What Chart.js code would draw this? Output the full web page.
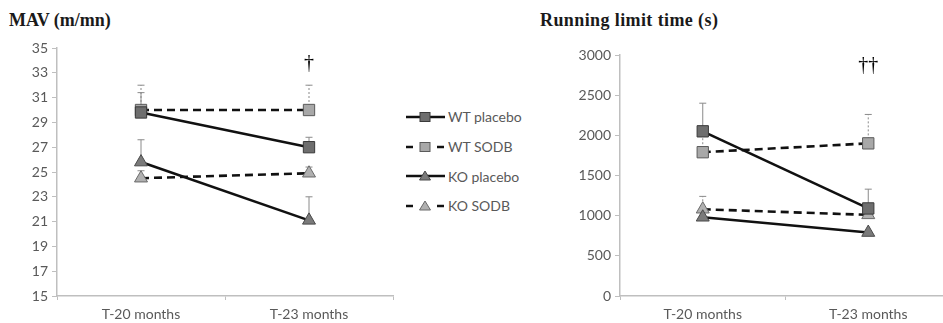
<!DOCTYPE html>
<html><head><meta charset="utf-8">
<script src="https://cdn.jsdelivr.net/npm/chart.js@4"></script>
<style>
html,body{margin:0;padding:0;background:#fff;width:943px;height:323px;overflow:hidden;position:relative;}
.ttl{position:absolute;font-family:"Liberation Serif","DejaVu Serif",serif;font-weight:bold;font-size:18px;color:#1a1a1a;white-space:nowrap;line-height:20px;}
.cv{position:absolute;top:0;}
#legend{position:absolute;left:405px;top:102px;font-family:Lato,"Open Sans",sans-serif;font-size:14px;color:#595959;}
#legend div{height:29.7px;display:flex;align-items:center;}
#legend svg{margin-right:3px;}
</style></head>
<body>
<div class="ttl" style="left:9px;top:10px;">MAV (m/mn)</div>
<div class="ttl" style="left:540px;top:10px;letter-spacing:0.4px;">Running limit time (s)</div>
<div class="cv" style="left:0;width:402px;height:323px;"><canvas id="c1"></canvas></div>
<div class="cv" style="left:560px;width:400px;height:323px;"><canvas id="c2"></canvas></div>
<div id="legend"></div>
<script>
// ---- data ----
const categories = ['T-20 months', 'T-23 months'];
const seriesNames = ['WT placebo', 'WT SODB', 'KO placebo', 'KO SODB'];

const mavWtPlacebo = [29.8, 27.0];
const mavWtSodb    = [30.0, 30.0];
const mavKoPlacebo = [25.8, 21.1];
const mavKoSodb    = [24.5, 24.9];
const mavWtPlaceboErr = [31.4, 27.8];
const mavWtSodbErr    = [32.0, 32.0];
const mavKoPlaceboErr = [27.6, 23.0];
const mavKoSodbErr    = [25.1, 25.4];
const mavTicks = [15, 17, 19, 21, 23, 25, 27, 29, 31, 33, 35];
const mavMark = {text: '†', category: 'T-23 months', value: 33.7};

const timeWtPlacebo = [2050, 1090];
const timeWtSodb    = [1790, 1900];
const timeKoPlacebo = [980, 790];
const timeKoSodb    = [1080, 1010];
const timeWtPlaceboErr = [2400, 1330];
const timeWtSodbErr    = [2060, 2260];
const timeKoPlaceboErr = [null, null];
const timeKoSodbErr    = [1240, 1090];
const timeTicks = [0, 500, 1000, 1500, 2000, 2500, 3000];
const timeMark = {text: '††', category: 'T-23 months', value: 2870};

// ---- styles ----
const styles = [
  {dash: [], point: 'rect', fill: '#6e6e6e', stroke: '#3a3a3a', radius: 8, errDash: []},
  {dash: [8, 5], point: 'rect', fill: '#a8a8a8', stroke: '#5a5a5a', radius: 8, errDash: [2, 2]},
  {dash: [], point: 'triangle', fill: '#7a7a7a', stroke: '#4a4a4a', radius: 7.5, errDash: []},
  {dash: [8, 5], point: 'triangle', fill: '#b0b0b0', stroke: '#6a6a6a', radius: 7.5, errDash: [2, 2]}
];
const tickFont = {family: 'Lato, "Open Sans", sans-serif', size: 14};
const tickColor = '#595959';
const axisColor = '#bfbfbf';

function makeDatasets(vals, errs) {
  return vals.map((v, i) => ({
    label: seriesNames[i],
    data: v,
    errUp: errs[i],
    borderColor: '#111',
    borderWidth: 2.6,
    borderDash: styles[i].dash,
    pointStyle: styles[i].point,
    pointRadius: styles[i].radius,
    pointBackgroundColor: styles[i].fill,
    pointBorderColor: styles[i].stroke,
    pointBorderWidth: 1,
    tension: 0,
    errDash: styles[i].errDash
  }));
}

const errorBars = {
  id: 'errorBars',
  beforeDatasetsDraw(chart) {
    const ctx = chart.ctx, y = chart.scales.y;
    chart.data.datasets.forEach((ds, di) => {
      const meta = chart.getDatasetMeta(di);
      ds.errUp.forEach((e, i) => {
        if (e == null) return;
        const px = meta.data[i].x, py0 = y.getPixelForValue(ds.data[i]), py1 = y.getPixelForValue(e);
        ctx.save();
        ctx.strokeStyle = '#8a8a8a';
        ctx.lineWidth = 1;
        ctx.setLineDash(ds.errDash);
        ctx.beginPath(); ctx.moveTo(px, py0); ctx.lineTo(px, py1); ctx.stroke();
        ctx.setLineDash([]);
        ctx.beginPath(); ctx.moveTo(px - 3.5, py1); ctx.lineTo(px + 3.5, py1); ctx.stroke();
        ctx.restore();
      });
    });
  }
};
const markPlugin = {
  id: 'markPlugin',
  afterDraw(chart, args, opts) {
    const m = opts.mark; if (!m) return;
    const ctx = chart.ctx;
    const px = chart.scales.x.getPixelForValue(categories.indexOf(m.category));
    const py = chart.scales.y.getPixelForValue(m.value);
    ctx.save();
    ctx.font = '20px "Liberation Serif", serif';
    ctx.fillStyle = '#000';
    ctx.textAlign = 'center'; ctx.textBaseline = 'middle';
    ctx.fillText(m.text, px, py);
    ctx.restore();
  }
};

function makeChart(id, datasets, ticks, mark, yWidth, padTop, padRight) {
  return new Chart(document.getElementById(id), {
    type: 'line',
    data: {labels: categories, datasets},
    options: {
      responsive: true, maintainAspectRatio: false, animation: false,
      layout: {padding: {top: padTop, right: padRight, left: 0, bottom: 0}},
      plugins: {legend: {display: false}, tooltip: {enabled: false}, markPlugin: {mark}},
      scales: {
        x: {
          offset: true,
          grid: {offset: true, drawOnChartArea: false, color: axisColor, tickLength: 4},
          border: {color: axisColor, width: 1.5},
          ticks: {font: tickFont, color: tickColor, padding: 6, maxRotation: 0},
          afterFit(s) { s.height = 27; }
        },
        y: {
          min: ticks[0], max: ticks[ticks.length - 1],
          afterBuildTicks(s) { s.ticks = ticks.map(v => ({value: v})); },
          grid: {drawOnChartArea: false, color: axisColor, tickLength: 5},
          border: {color: axisColor, width: 1.5},
          ticks: {font: tickFont, color: tickColor, padding: 4, callback: v => String(v)},
          afterFit(s) { s.width = yWidth; }
        }
      }
    },
    plugins: [errorBars, markPlugin]
  });
}

makeChart('c1', makeDatasets([mavWtPlacebo, mavWtSodb, mavKoPlacebo, mavKoSodb],
  [mavWtPlaceboErr, mavWtSodbErr, mavKoPlaceboErr, mavKoSodbErr]), mavTicks, mavMark, 57, 48, 2);
makeChart('c2', makeDatasets([timeWtPlacebo, timeWtSodb, timeKoPlacebo, timeKoSodb],
  [timeWtPlaceboErr, timeWtSodbErr, timeKoPlaceboErr, timeKoSodbErr]), timeTicks, timeMark, 60, 55, 8);

// ---- legend (HTML) ----
const leg = document.getElementById('legend');
seriesNames.forEach((name, i) => {
  const s = styles[i];
  const mk = s.point === 'rect'
    ? `<rect x="15" y="5.5" width="10" height="9" fill="${s.fill}" stroke="${s.stroke}" stroke-width="1"/>`
    : `<polygon points="20,5 25.5,14 14.5,14" fill="${s.fill}" stroke="${s.stroke}" stroke-width="1"/>`;
  const line = s.dash.length
    ? `<line x1="1" y1="10" x2="8" y2="10" stroke="#111" stroke-width="2.5"/><line x1="32" y1="10" x2="39" y2="10" stroke="#111" stroke-width="2.5"/>`
    : `<line x1="1" y1="10" x2="40" y2="10" stroke="#111" stroke-width="2.5"/>`;
  const d = document.createElement('div');
  d.innerHTML = `<svg width="40" height="20">${line}${mk}</svg><span>${name}</span>`;
  leg.appendChild(d);
});
</script>
</body></html>
